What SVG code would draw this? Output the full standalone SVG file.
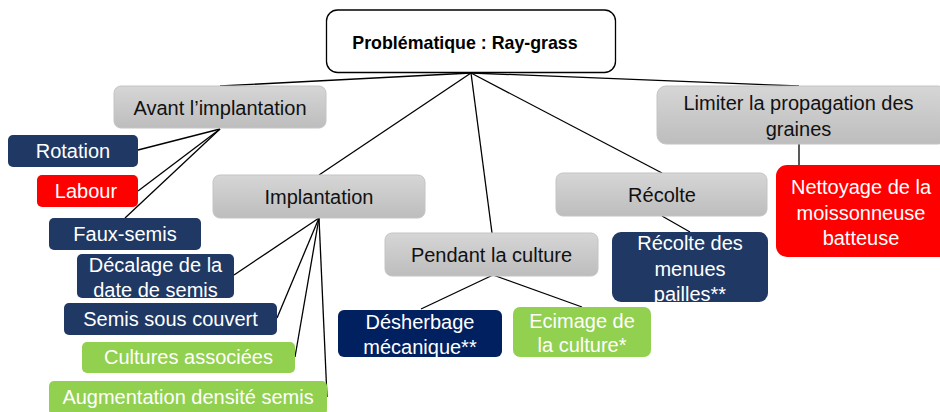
<svg xmlns="http://www.w3.org/2000/svg" width="940" height="412" viewBox="0 0 940 412">
<defs>
<linearGradient id="gr" x1="0" y1="0" x2="0" y2="1">
<stop offset="0" stop-color="#d6d6d6"/>
<stop offset="1" stop-color="#bdbdbd"/>
</linearGradient>
</defs>
<style>
text{font-family:"Liberation Sans",Arial,sans-serif;font-size:20px;text-anchor:middle}
text.t{font-size:17.8px;font-weight:bold;fill:#000}
.g rect{fill:url(#gr);stroke:#c4c4c4;stroke-width:1}
.g text{fill:#111}
.b rect{fill:#203864}
.n rect{fill:#002060}
.r rect{fill:#ff0000}
.v rect{fill:#92d050}
.b text,.n text,.r text,.v text{fill:#fff}
#connectors line{stroke:#000;stroke-width:1.3}
</style>
<rect width="940" height="412" fill="#fff"/>
<g id="connectors">
<line x1="471" y1="73" x2="220" y2="86"/>
<line x1="471" y1="73" x2="319" y2="175"/>
<line x1="471" y1="73" x2="492" y2="233"/>
<line x1="471" y1="73" x2="662" y2="173"/>
<line x1="471" y1="73" x2="799" y2="86"/>
<line x1="220" y1="129" x2="138" y2="150"/>
<line x1="220" y1="129" x2="138" y2="191"/>
<line x1="220" y1="129" x2="125" y2="218"/>
<line x1="319" y1="218" x2="234" y2="275"/>
<line x1="319" y1="218" x2="277" y2="318"/>
<line x1="319" y1="218" x2="295" y2="357"/>
<line x1="319" y1="218" x2="327" y2="397"/>
<line x1="493" y1="275" x2="421" y2="309"/>
<line x1="493" y1="275" x2="582" y2="307"/>
<line x1="662" y1="216" x2="690" y2="232"/>
<line x1="799" y1="144" x2="799" y2="165"/>
</g>
<g id="root">
<rect x="326.5" y="10" width="289" height="62.5" rx="11" fill="#fff" stroke="#000" stroke-width="1.3"/>
<text class="t" x="465" y="48.5">Problématique : Ray-grass</text>
</g>
<g id="avant" class="g">
<rect x="114" y="86" width="212" height="42" rx="7"/>
<text x="220" y="115">Avant l’implantation</text>
</g>
<g id="rotation" class="b">
<rect x="8" y="135" width="130" height="32" rx="5"/>
<text x="73" y="158">Rotation</text>
</g>
<g id="labour" class="r">
<rect x="37" y="175" width="101" height="32" rx="5"/>
<text x="86" y="198">Labour</text>
</g>
<g id="faux" class="b">
<rect x="49" y="218" width="152" height="32" rx="5"/>
<text x="125" y="241">Faux-semis</text>
</g>
<g id="implantation" class="g">
<rect x="213" y="175" width="212" height="43" rx="7"/>
<text x="319" y="204">Implantation</text>
</g>
<g id="decalage" class="b">
<rect x="77" y="254" width="157" height="44" rx="5"/>
<text x="155.5" y="272">Décalage de la</text>
<text x="155.5" y="297">date de semis</text>
</g>
<g id="couvert" class="b">
<rect x="64" y="303" width="213" height="32" rx="5"/>
<text x="170.5" y="326">Semis sous couvert</text>
</g>
<g id="associees" class="v">
<rect x="82" y="342" width="213" height="31" rx="5"/>
<text x="188.5" y="364">Cultures associées</text>
</g>
<g id="densite" class="v">
<rect x="49" y="381" width="278" height="34" rx="5"/>
<text x="188" y="404">Augmentation densité semis</text>
</g>
<g id="pendant" class="g">
<rect x="385" y="233" width="213" height="43" rx="7"/>
<text x="491.5" y="262">Pendant la culture</text>
</g>
<g id="desherbage" class="n">
<rect x="338" y="310" width="164" height="47" rx="6"/>
<text x="420" y="329">Désherbage</text>
<text x="420" y="354">mécanique**</text>
</g>
<g id="ecimage" class="v">
<rect x="513" y="307" width="138" height="50" rx="7"/>
<text x="582" y="328">Ecimage de</text>
<text x="582" y="352">la culture*</text>
</g>
<g id="recolte" class="g">
<rect x="556" y="173" width="211" height="43" rx="7"/>
<text x="662" y="202">Récolte</text>
</g>
<g id="menues" class="b">
<rect x="612" y="232" width="156" height="70" rx="9"/>
<text x="690" y="250">Récolte des</text>
<text x="690" y="275.5">menues</text>
<text x="690" y="301">pailles**</text>
</g>
<g id="limiter" class="g">
<rect x="657" y="86" width="290" height="58" rx="9"/>
<text x="798.5" y="110">Limiter la propagation des</text>
<text x="798.5" y="136">graines</text>
</g>
<g id="nettoyage" class="r">
<rect x="776" y="165" width="175" height="92" rx="11"/>
<text x="861" y="194">Nettoyage de la</text>
<text x="861" y="220">moissonneuse</text>
<text x="861" y="245">batteuse</text>
</g>
</svg>
